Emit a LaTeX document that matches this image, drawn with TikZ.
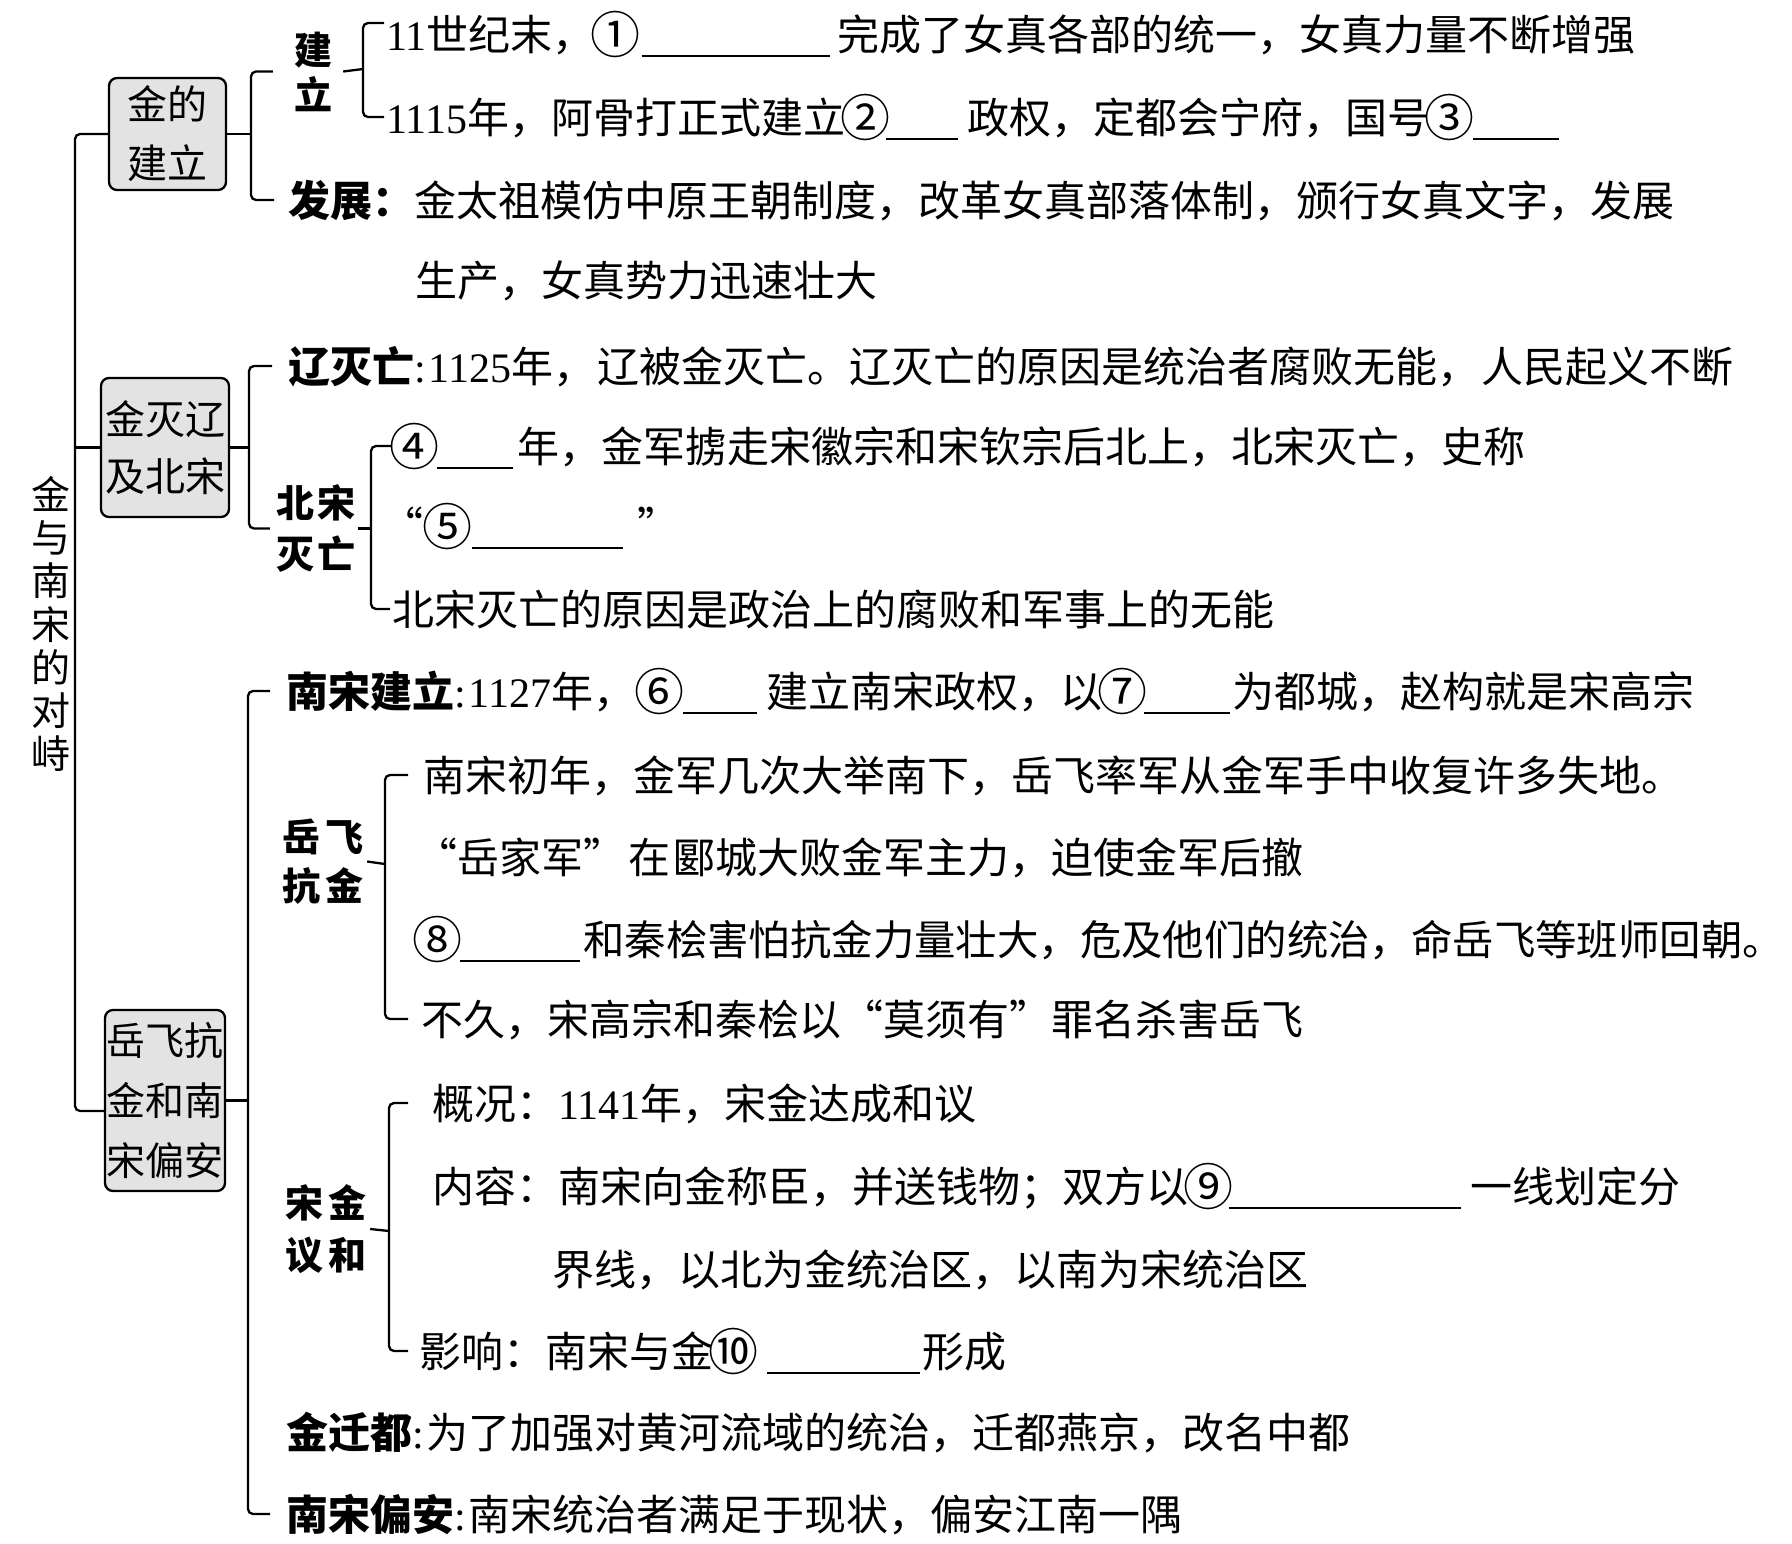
\documentclass[tikz,border=0pt]{standalone}
\usepackage{fontspec}
\setmainfont{Noto Sans CJK SC}
\newfontfamily\tnr{Liberation Serif}
\newcommand{\blank}[1]{\rule[-7pt]{#1pt}{2.2pt}}
\newcommand{\cn}[1]{\makebox[41pt]{\raisebox{-3pt}{\fontsize{50}{50}\selectfont #1}}}
\begin{document}
\begin{tikzpicture}[x=1pt,y=-1pt,
  conn/.style={line width=2.3pt, rounded corners=5pt},
  topic/.style={draw, line width=2.3pt, rounded corners=8pt, fill=gray!22, inner sep=0pt, align=center},
  body/.style={anchor=west, inner sep=0pt, text height=37pt, text depth=5pt, font=\fontsize{42}{50}\selectfont},
  vlabel/.style={inner sep=0pt, align=center}
]
\fill[white] (0,0) rectangle (1792,1543);
\useasboundingbox (0,0) rectangle (1792,1543);

% title
\node[vlabel, font=\fontsize{39}{43.3}\selectfont] (title) at (51,624) {金\\与\\南\\宋\\的\\对\\峙};

% topic boxes
\node[topic, minimum width=117pt, minimum height=112pt, font=\fontsize{40}{59}\selectfont] (box1) at (167.5,134) {金的\\建立};
\node[topic, minimum width=128pt, minimum height=139pt, font=\fontsize{40}{57}\selectfont] (box2) at (165,447.5) {金灭辽\\及北宋};
\node[topic, minimum width=120pt, minimum height=181pt, font=\fontsize{39}{60}\selectfont] (box3) at (165,1100.5) {岳飞抗\\金和南\\宋偏安};

% spine
\coordinate (sp1) at (75,134);
\coordinate (sp3) at (75,1111);
\draw[conn] (box1.west) -- (sp1) -- (sp3) -- (sp3 -| box3.west);
\draw[conn] (box2.west) -- (box2.west -| sp1);

% ---------- group 1
\node[vlabel, font=\bfseries\fontsize{38}{45}\selectfont] (jianli) at (313,71.5) {建\\立};
\node[body] (l1) at (386,34) {{\tnr 11}世纪末，\cn{①}\hspace{6pt}\blank{188}\hspace{8pt}完成了女真各部的统一，女真力量不断增强};
\node[body] (l2) at (386,117) {{\tnr 1115}年，阿骨打正式建立\cn{②}\blank{72}\hspace{9pt}政权，定都会宁府，国号\cn{③}\hspace{3pt}\blank{86}};
\node[body] (fazhan) at (288,200) {{\bfseries 发展：}金太祖模仿中原王朝制度，改革女真部落体制，颁行女真文字，发展};
\node[body] (l3b) at (415,280) {生产，女真势力迅速壮大};
\coordinate (g1) at (251,134);
\draw[conn] (box1.east) -- (g1);
\draw[conn] ([xshift=-21pt]jianli.west) -| (g1) |- ([xshift=-14pt]fazhan.west);
\coordinate (s1) at (363,69);
\draw[conn] ([xshift=11pt]jianli.east) -- (s1);
\draw[conn] ([yshift=11pt,xshift=-2pt]l1.west) -| (s1) |- ([xshift=-2pt]l2.west);

% ---------- group 2
\node[body] (liao) at (288,366) {{\bfseries 辽灭亡}{\tnr :}\hspace{3pt}{\tnr 1125}年，\hspace{2pt}辽被金灭亡。辽灭亡的原因是统治者腐败无能，\hspace{2pt}人民起义不断};
\node[vlabel, font=\bfseries\fontsize{38}{51}\selectfont] (beisong) at (316,528.5) {北\hspace{4pt}宋\\灭\hspace{4pt}亡};
\node[body] (l4) at (394,446) {\cn{④}\hspace{2pt}\blank{76}\hspace{4pt}年，金军掳走宋徽宗和宋钦宗后北上，北宋灭亡，史称};
\node[body] (l5) at (381,526) {“\hspace{4pt}\cn{⑤}\hspace{4pt}\blank{151}\hspace{14pt}”};
\node[body] (l6) at (392,609) {北宋灭亡的原因是政治上的腐败和军事上的无能};
\coordinate (g2) at (249,447.5);
\draw[conn] (box2.east) -- (g2);
\draw[conn] ([xshift=-16pt]liao.west) -| (g2) |- ([xshift=-6pt]beisong.west);
\coordinate (s2) at (371,528.5);
\draw[conn] ([xshift=2pt]beisong.east) -- (s2);
\draw[conn] ([xshift=-2pt]l4.west) -| (s2) |- ([xshift=-2pt]l6.west);

% ---------- group 3
\node[body] (nsjl) at (286,691) {{\bfseries 南宋建立}{\tnr :}\hspace{3pt}{\tnr 1127}年，\hspace{4pt}\cn{⑥}\hspace{3pt}\blank{74}\hspace{9pt}建立南宋政权，以\cn{⑦}\hspace{1pt}\blank{86}\hspace{2pt}为都城，赵构就是宋高宗};
\node[vlabel, font=\bfseries\fontsize{38}{49}\selectfont] (yuefei) at (323,861.5) {岳\hspace{6pt}飞\\抗\hspace{6pt}金};
\node[body] (l8) at (423,775) {南宋初年，金军几次大举南下，岳飞率军从金军手中收复许多失地。};
\node[body] (l9) at (415,857) {“岳家军”\hspace{3pt}在\hspace{3pt}郾城大败金军主力，迫使金军后撤};
\node[body, font=\fontsize{41.4}{50}\selectfont] (l10) at (417,939) {\cn{⑧}\hspace{2pt}\blank{120}\hspace{3pt}和秦桧害怕抗金力量壮大，危及他们的统治，命岳飞等班师回朝。};
\node[body] (l11) at (421,1019) {不久，宋高宗和秦桧以“莫须有”罪名杀害岳飞};
\node[vlabel, font=\bfseries\fontsize{38}{52}\selectfont] (songjin) at (326,1229) {宋\hspace{6pt}金\\议\hspace{6pt}和};
\node[body] (l12) at (432,1103) {概况：{\tnr 1141}年，宋金达成和议};
\node[body] (l13) at (432,1186) {内容：南宋向金称臣，并送钱物；双方以\cn{⑨}\blank{232}\hspace{9pt}一线划定分};
\node[body] (l14) at (552,1269) {界线，以北为金统治区，以南为宋统治区};
\node[body] (l15) at (419,1351) {影响：南宋与金\cn{⑩}\hspace{13pt}\blank{153}\hspace{2pt}形成};
\node[body] (qiandu) at (286,1432) {{\bfseries 金迁都}{\tnr :}\hspace{3pt}为了加强对黄河流域的统治，迁都燕京，改名中都};
\node[body] (pianan) at (286,1514) {{\bfseries 南宋偏安}{\tnr :}\hspace{3pt}南宋统治者满足于现状，偏安江南一隅};
\coordinate (g3) at (248,1100.5);
\draw[conn] (box3.east) -- (g3);
\draw[conn] ([xshift=-16pt]nsjl.west) -| (g3) |- ([xshift=-16pt]pianan.west);
\coordinate (s3) at (385,864);
\draw[conn] ([xshift=3pt]yuefei.east) -- (s3);
\draw[conn] ([xshift=-15pt]l8.west) -| (s3) |- ([xshift=-13pt]l11.west);
\coordinate (s4) at (389,1231);
\draw[conn] ([xshift=3pt]songjin.east) -- (s4);
\draw[conn] ([xshift=-24pt]l12.west) -| (s4) |- ([xshift=-11pt]l15.west);
\end{tikzpicture}
\end{document}
